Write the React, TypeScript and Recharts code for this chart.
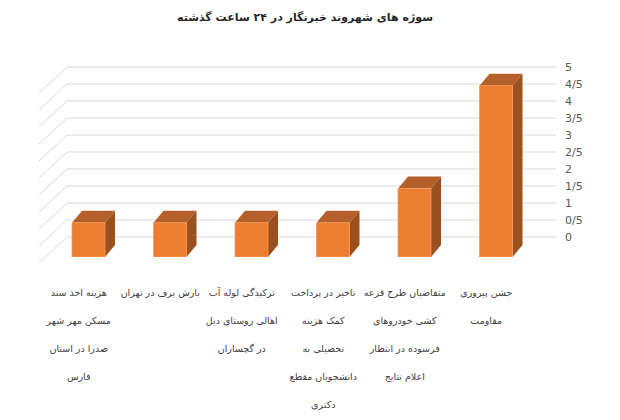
import { BarChart, Bar, XAxis, YAxis, CartesianGrid } from 'recharts'

// categories in original (right-to-left) order
const categories = [
  'جشن پیروزی مقاومت',
  'متقاضیان طرح قرعه کشی خودروهای فرسوده در انتظار اعلام نتایج',
  'تاخیر در پرداخت کمک هزینه تحصیلی به دانشجویان مقطع دکتری',
  'ترکیدگی لوله آب اهالی روستای دیل در گچساران',
  'بارش برف در تهران',
  'هزینه اخذ سند مسکن مهر شهر صدرا در استان فارس',
]
const tickLines = [
  ['جشن پیروزی', 'مقاومت'],
  ['متقاضیان طرح قرعه', 'کشی خودروهای', 'فرسوده در انتظار', 'اعلام نتایج'],
  ['تاخیر در پرداخت', 'کمک هزینه', 'تحصیلی به', 'دانشجویان مقطع', 'دکتری'],
  ['ترکیدگی لوله آب', 'اهالی روستای دیل', 'در گچساران'],
  ['بارش برف در تهران'],
  ['هزینه اخذ سند', 'مسکن مهر شهر', 'صدرا در استان', 'فارس'],
]
const values = [5, 2, 1, 1, 1, 1]
const yTicks = [0, 0.5, 1, 1.5, 2, 2.5, 3, 3.5, 4, 4.5, 5]

const data = categories.map((name, i) => ({ name, value: values[i], lines: tickLines[i] }))

const FONT = '"DejaVu Sans", sans-serif'
const DX = 10
const DY = 12
const GRID_SHIFT = 19

function Bar3D(props: any) {
  const { x, y, width: w, height: h } = props
  if (!h) return null
  return (
    <g>
      <polygon
        points={`${x},${y} ${x + DX},${y - DY} ${x + w + DX},${y - DY} ${x + w},${y}`}
        fill="#B5602A"
      />
      <polygon
        points={`${x + w},${y} ${x + w + DX},${y - DY} ${x + w + DX},${y + h - DY} ${x + w},${y + h}`}
        fill="#9A501F"
      />
      <rect x={x} y={y} width={w} height={h} fill="#ED7D31" stroke="#F39A5C" strokeWidth={0.8} />
    </g>
  )
}

function CategoryTick(props: any) {
  const { x, y, index } = props
  const lines = data[index]?.lines ?? []
  return (
    <g>
      {lines.map((t: string, i: number) => (
        <text
          key={i}
          x={x - 10}
          y={y + 31 + i * 28}
          textAnchor="middle"
          fontFamily={FONT}
          fontSize={9.5}
          fill="#404040"
        >
          {t}
        </text>
      ))}
    </g>
  )
}

function GridLine(p: any) {
  // only the tick lines, not the plot-area edge below the floor
  if (p.y1 > 250) return <g key={p.key} />
  const x1 = p.x1 + GRID_SHIFT
  const x2 = p.x2 + GRID_SHIFT
  return (
    <g key={p.key}>
      <line x1={x1} y1={p.y1} x2={x2} y2={p.y2} stroke="#D9D9D9" strokeWidth={1} />
      <line x1={x1} y1={p.y1} x2={x1 - 28} y2={p.y1 + 26} stroke="#D9D9D9" strokeWidth={1} />
    </g>
  )
}

export default function App() {
  return (
    <div style={{ position: 'absolute', left: 0, top: 0, width: 620, height: 420, background: '#fff' }}>
      <div
        style={{
          position: 'absolute',
          left: 0,
          width: 610,
          top: 11,
          textAlign: 'center',
          fontFamily: FONT,
          fontWeight: 'bold',
          fontSize: 11,
          color: '#262626',
          direction: 'rtl',
        }}
      >
        سوژه های شهروند خبرنگار در ۲۴ ساعت گذشته
      </div>
      <BarChart
        width={620}
        height={420}
        data={data}
        margin={{ top: 67, right: 0, bottom: 0, left: 48 }}
      >
        <CartesianGrid yAxisId="grid" vertical={false} horizontal={GridLine} />
        <XAxis
          dataKey="name"
          reversed
          axisLine={false}
          tickLine={false}
          height={163}
          interval={0}
          tick={<CategoryTick />}
        />
        <YAxis
          yAxisId="grid"
          orientation="right"
          type="number"
          domain={[-0.588, 5]}
          allowDataOverflow
          ticks={yTicks}
          interval={0}
          width={83}
          axisLine={false}
          tickLine={false}
          tickMargin={22}
          tickFormatter={(v: number) => String(v).replace('.', '/')}
          tick={{ fill: '#595959', fontSize: 11, fontFamily: FONT, textAnchor: 'start' }}
        />
        <YAxis yAxisId="bars" hide type="number" domain={[0, 5.55]} allowDataOverflow />
        <Bar
          yAxisId="bars"
          dataKey="value"
          barSize={33}
          shape={<Bar3D />}
          isAnimationActive={false}
        />
      </BarChart>
    </div>
  )
}
